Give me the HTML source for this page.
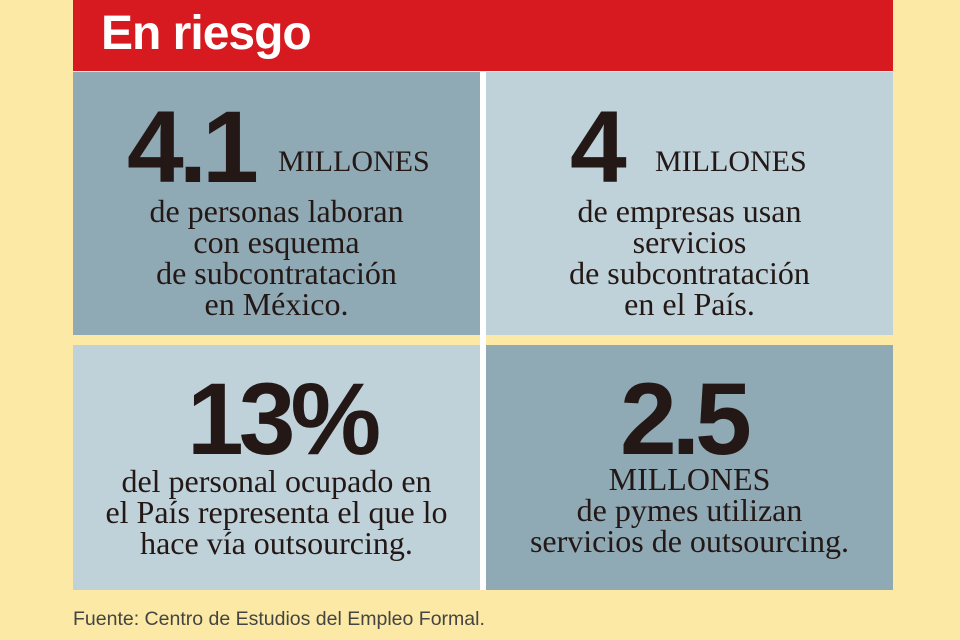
<!DOCTYPE html>
<html><head><meta charset="utf-8"><style>
body{margin:0;width:960px;height:640px;background:#fbe9a5;position:relative;overflow:hidden;font-family:"Liberation Serif",serif;color:#231815}
.hd{position:absolute;left:73px;top:0;width:820px;height:71px;background:#d71920}
.hd span{position:absolute;left:28px;top:6px;font:bold 48px "Liberation Sans",sans-serif;color:#fff;letter-spacing:-1px}
.p{position:absolute}
.d{background:#8fa9b5}.l{background:#bfd1d9}
.big{position:absolute;font:bold 102px "Liberation Sans",sans-serif;letter-spacing:-5px;line-height:1}
.m{position:absolute;font-size:30px;line-height:1}
.t{position:absolute;left:0;width:100%;text-align:center;font-size:32px;line-height:31px}
.f{position:absolute;left:73px;top:608px;font:19.5px "Liberation Sans",sans-serif;color:#444}
.wv{position:absolute;left:480px;top:72px;width:6px;height:518px;background:#fff}
</style></head><body>
<div class="hd"><span>En riesgo</span></div>
<div class="p d" style="left:73px;top:72px;width:407px;height:263px">
<div class="big" style="left:54px;top:24px">4.1</div>
<div class="m" style="left:205px;top:75px">MILLONES</div>
<div class="t" style="top:124px">de personas laboran<br>con esquema<br>de subcontratación<br>en México.</div>
</div>
<div class="p l" style="left:486px;top:72px;width:407px;height:263px">
<div class="big" style="left:84px;top:24px">4</div>
<div class="m" style="left:169px;top:75px">MILLONES</div>
<div class="t" style="top:124px">de empresas usan<br>servicios<br>de subcontratación<br>en el País.</div>
</div>
<div class="p l" style="left:73px;top:345px;width:407px;height:245px">
<div class="big" style="left:114px;top:23px">13%</div>
<div class="t" style="top:121px">del personal ocupado en<br>el País representa el que lo<br>hace vía outsourcing.</div>
</div>
<div class="p d" style="left:486px;top:345px;width:407px;height:245px">
<div class="big" style="left:134px;top:23px">2.5</div>
<div class="t" style="top:119px">MILLONES<br>de pymes utilizan<br>servicios de outsourcing.</div>
</div>
<div class="wv"></div>
<div class="f">Fuente: Centro de Estudios del Empleo Formal.</div>
</body></html>
